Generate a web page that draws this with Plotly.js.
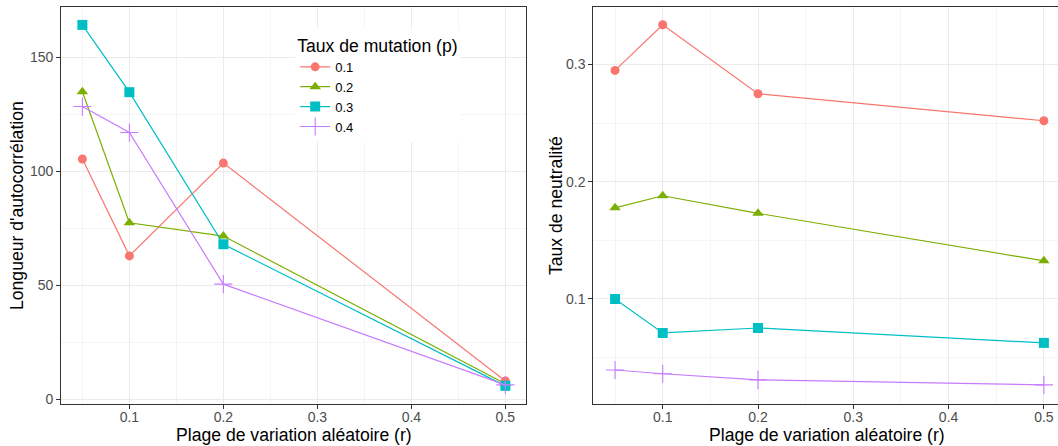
<!DOCTYPE html>
<html>
<head>
<meta charset="utf-8">
<script src="https://cdn.plot.ly/plotly-3.0.1.min.js"></script>
<style>html,body{margin:0;padding:0;background:#fff}#chart{width:1058px;height:446px}</style>
</head>
<body>
<div id="chart"></div>
<script>
// Data
const rValues = [0.05, 0.1, 0.2, 0.5];
const mutationRates = ['0.1', '0.2', '0.3', '0.4'];
const autocorr_p01 = [105.4, 62.9, 103.6, 8.0];
const autocorr_p02 = [134.9, 77.4, 71.6, 6.8];
const autocorr_p03 = [164.2, 134.7, 68.0, 5.9];
const autocorr_p04 = [128.4, 117.0, 50.5, 6.3];
const neutral_p01 = [0.2949, 0.3339, 0.2750, 0.2520];
const neutral_p02 = [0.1777, 0.1880, 0.1730, 0.1325];
const neutral_p03 = [0.1000, 0.0710, 0.0752, 0.0625];
const neutral_p04 = [0.0394, 0.0362, 0.0310, 0.0267];
const xMinorGrid = [0.05, 0.15, 0.25, 0.35, 0.45];
const yLeftMinorGrid = [25, 75, 125];
const yRightMinorGrid = [0.05, 0.15, 0.25];

const colors = ['#F8766D', '#7CAE00', '#00BFC4', '#C77CFF'];
const symbols = ['circle', 'triangle-up', 'square', 'cross-thin-open'];
const sizes = [9, 10, 10, 13];
const autocorr = [autocorr_p01, autocorr_p02, autocorr_p03, autocorr_p04];
const neutral = [neutral_p01, neutral_p02, neutral_p03, neutral_p04];

const traces = [];
for (let i = 0; i < 4; i++) {
  const marker = {symbol: symbols[i], size: sizes[i], color: colors[i],
    line: {width: i === 3 ? 1.1 : 0, color: colors[i]}};
  traces.push({x: rValues, y: autocorr[i], type: 'scatter', mode: 'lines+markers',
    name: mutationRates[i], legendgroup: 'g' + i, showlegend: true,
    line: {color: colors[i], width: 1.2}, marker: marker, xaxis: 'x', yaxis: 'y'});
  traces.push({x: rValues, y: neutral[i], type: 'scatter', mode: 'lines+markers',
    name: mutationRates[i], legendgroup: 'g' + i, showlegend: false,
    line: {color: colors[i], width: 1.2}, marker: marker, xaxis: 'x2', yaxis: 'y2'});
}

const grid = '#EBEBEB';
const tickFont = {family: 'Liberation Sans, Arial, sans-serif', size: 14, color: '#4D4D4D'};
const common = {showgrid: true, gridcolor: grid, gridwidth: 1, zeroline: false,
  ticks: 'outside', ticklen: 4, tickcolor: '#333333', tickwidth: 1,
  showline: true, linecolor: '#333333', linewidth: 1, tickfont: tickFont};
const minorX = {tickmode: 'array', tickvals: xMinorGrid, showgrid: true, gridcolor: grid, gridwidth: 0.5, ticks: ''};

const titleFont = {family: 'Liberation Sans, Arial, sans-serif', size: 17.6, color: '#000'};

const layout = {
  width: 1058, height: 446,
  margin: {l: 0, r: 0, t: 0, b: 0},
  paper_bgcolor: '#fff', plot_bgcolor: '#fff',
  font: {family: 'Liberation Sans, Arial, sans-serif'},
  xaxis: Object.assign({}, common, {domain: [0.0577, 0.4972], range: [0.0273, 0.522],
    tick0: 0, dtick: 0.1, mirror: true, anchor: 'y', ticklabelstandoff: -4, minor: minorX}),
  yaxis: Object.assign({}, common, {domain: [0.0942, 0.9843], range: [-2.06, 172.06],
    tick0: 0, dtick: 50, mirror: true, anchor: 'x',
    minor: {tickmode: 'array', tickvals: yLeftMinorGrid, showgrid: true, gridcolor: grid, gridwidth: 0.5, ticks: ''}}),
  xaxis2: Object.assign({}, common, {domain: [0.5608, 1], range: [0.0272, 0.5148],
    tick0: 0, dtick: 0.1, mirror: true, anchor: 'y2', ticklabelstandoff: -4, minor: minorX}),
  yaxis2: Object.assign({}, common, {domain: [0.0942, 0.9843], range: [0.0104, 0.349],
    tick0: 0, dtick: 0.1, mirror: false, anchor: 'x2',
    minor: {tickmode: 'array', tickvals: yRightMinorGrid, showgrid: true, gridcolor: grid, gridwidth: 0.5, ticks: ''}}),
  legend: {x: 0.279, y: 0.935, xanchor: 'left', yanchor: 'top', bgcolor: '#fff',
    font: {family: 'Liberation Sans, Arial, sans-serif', size: 13, color: '#000'},
    title: {text: 'Taux de mutation (p)', font: titleFont, side: 'top'},
    tracegroupgap: 0, itemwidth: 30},
  annotations: [
    {text: 'Plage de variation aléatoire (r)', xref: 'paper', yref: 'paper', x: 293.5/1058, y: 1 - 435/446,
      xanchor: 'center', yanchor: 'middle', showarrow: false, font: titleFont},
    {text: 'Plage de variation aléatoire (r)', xref: 'paper', yref: 'paper', x: 827/1058, y: 1 - 435/446,
      xanchor: 'center', yanchor: 'middle', showarrow: false, font: titleFont},
    {text: "Longueur d'autocorrélation", xref: 'paper', yref: 'paper', x: 17/1058, y: 1 - 206/446,
      xanchor: 'center', yanchor: 'middle', showarrow: false, textangle: -90, font: titleFont},
    {text: 'Taux de neutralité', xref: 'paper', yref: 'paper', x: 556/1058, y: 1 - 206/446,
      xanchor: 'center', yanchor: 'middle', showarrow: false, textangle: -90, font: titleFont}
  ]
};

Plotly.newPlot('chart', traces, layout, {displayModeBar: false, staticPlot: true});
</script>
</body>
</html>
